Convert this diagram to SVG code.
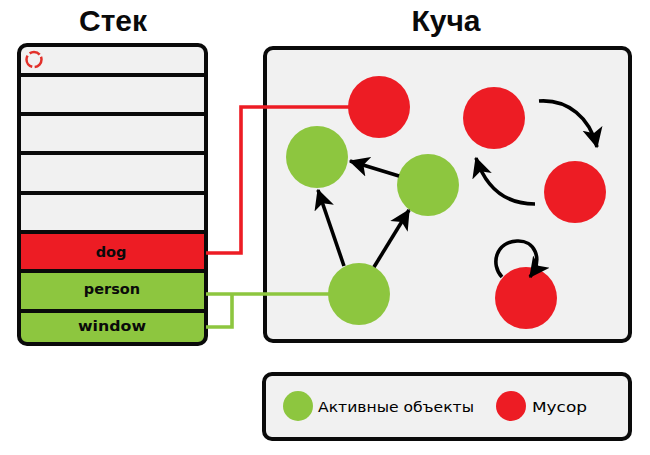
<svg xmlns="http://www.w3.org/2000/svg" width="650" height="455" viewBox="0 0 650 455">
<style>
.panel{fill:#f1f1f1;stroke:#0a0a0a;stroke-width:4}
.div{stroke:#0a0a0a;stroke-width:4;fill:none}
.red{fill:#ed1c24}
.green{fill:#8dc63f}
.arrow{fill:none;stroke:#000;stroke-width:3.6;marker-end:url(#head)}
.title{font:700 30px "Liberation Sans",Arial,sans-serif;fill:#0a0a0a;text-anchor:middle}
.cell{font:700 14.5px "DejaVu Sans",Verdana,sans-serif;fill:#0a0a0a;text-anchor:middle}
.leg{font:400 14.5px "DejaVu Sans",Verdana,sans-serif;fill:#000}
</style>
<defs>
<marker id="head" markerUnits="userSpaceOnUse" markerWidth="23" markerHeight="23" refX="15" refY="8" orient="auto" viewBox="0 0 18 16">
<path d="M0 0L16 8L0 16L4 8Z" fill="#000"/>
</marker>
</defs>
<rect width="650" height="455" fill="#fff"/>
<text class="title" x="113" y="31">Стек</text>
<text class="title" x="446" y="31">Куча</text>
<g id="stack">
<rect x="19" y="45" width="187" height="299" rx="8" fill="#f1f1f1"/>
<rect x="19" y="232" width="187" height="39" class="red"/>
<path d="M19 271H206V336a8 8 0 0 1-8 8H27a8 8 0 0 1-8-8Z" class="green"/>
<rect x="19" y="45" width="187" height="299" rx="8" fill="none" stroke="#0a0a0a" stroke-width="4"/>
<path class="div" d="M19 75H206M19 114H206M19 153H206M19 193H206M19 232H206M19 271H206M19 311H206"/>
<circle cx="34" cy="59.500" r="7.500" fill="none" stroke="#e2302a" stroke-width="2.500" stroke-dasharray="11 2.500 14 3"/>
<text class="cell" x="111" y="257">dog</text>
<text class="cell" x="112" y="294">person</text>
<text class="cell" x="112" y="331" textLength="68" lengthAdjust="spacingAndGlyphs">window</text>
</g>
<g id="heap">
<rect class="panel" x="265" y="48" width="365" height="293" rx="8"/>
</g>
<g id="obj-dog"><circle class="red" cx="379" cy="107" r="31"/></g>
<g id="obj-g1"><circle class="red" cx="494" cy="118" r="31"/></g>
<g id="obj-g2"><circle class="red" cx="575" cy="192" r="31"/></g>
<g id="obj-g3"><circle class="red" cx="526" cy="298" r="31"/></g>
<g id="obj-a1"><circle class="green" cx="317" cy="157" r="31"/></g>
<g id="obj-a2"><circle class="green" cx="428" cy="185" r="31"/></g>
<g id="obj-a3"><circle class="green" cx="359" cy="294" r="31"/></g>
<g id="connectors">
<path d="M206 253H241V107H350" fill="none" stroke="#ed1c24" stroke-width="3.600"/>
<path d="M206 294H330M206 327H232V294" fill="none" stroke="#8dc63f" stroke-width="3.600"/>
<path class="arrow" d="M344 266L318 190"/>
<path class="arrow" d="M374 267L409 210"/>
<path class="arrow" d="M399 176L350 161"/>
<path class="arrow" d="M539 101C568 99 590 118 597 147"/>
<path class="arrow" d="M535 204C506 204 486 188 476 158"/>
<path class="arrow" d="M502 277C490 264 496 242 517 241C534 240 544 258 530 277"/>
</g>
<g id="legend">
<rect class="panel" x="264" y="374" width="366" height="65" rx="8"/>
<circle class="green" cx="298" cy="406" r="15"/>
<text class="leg" x="318" y="412" textLength="156" lengthAdjust="spacingAndGlyphs">Активные объекты</text>
<circle class="red" cx="511" cy="406" r="15"/>
<text class="leg" x="532" y="412" textLength="55" lengthAdjust="spacingAndGlyphs">Мусор</text>
</g>
</svg>
